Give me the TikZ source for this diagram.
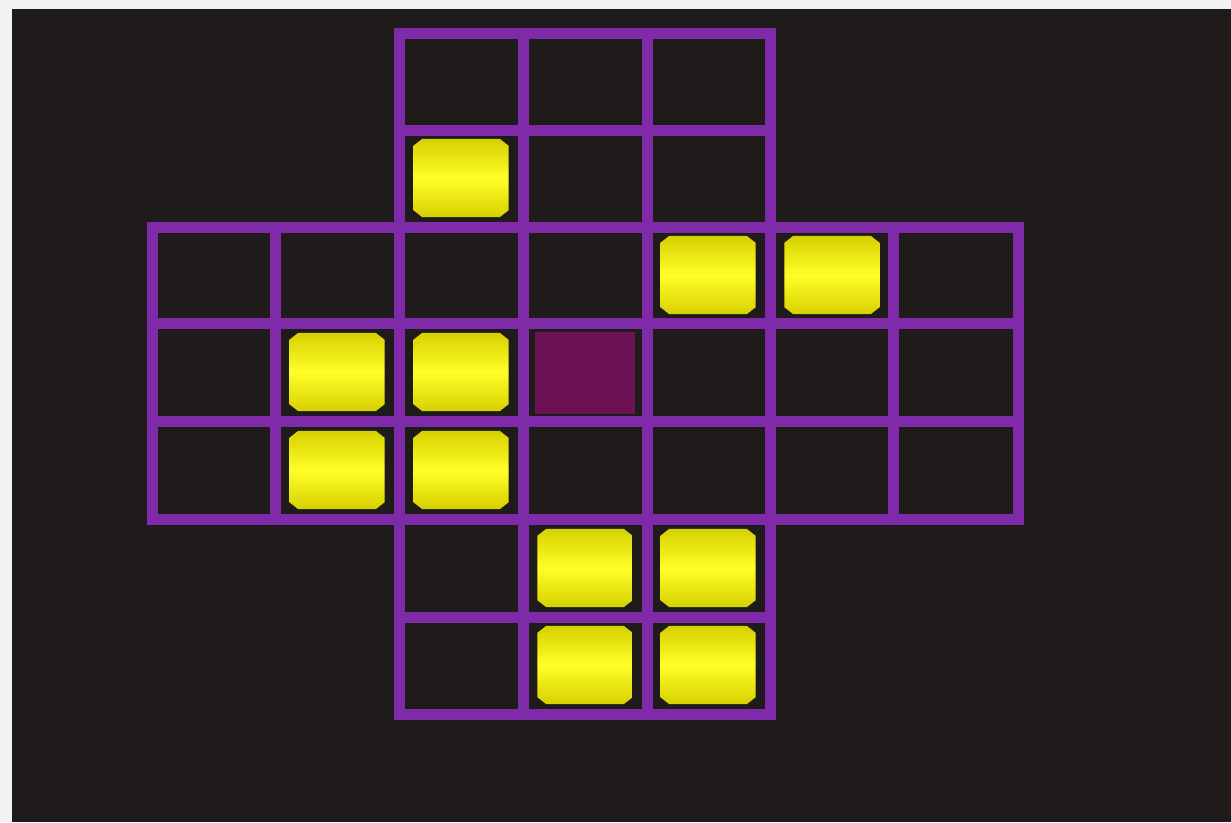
\documentclass[tikz,border=0pt]{standalone}
\usetikzlibrary{calc}
\definecolor{bgwhite}{HTML}{F2F2F2}
\definecolor{bgdark}{HTML}{1F1B1B}
\definecolor{gridpurple}{HTML}{7F2AA8}
\definecolor{holepurple}{HTML}{6C1254}
\definecolor{pegedge}{HTML}{D6D000}
\definecolor{pegmid}{HTML}{FFFF28}
\tikzset{
  gridline/.style={draw=gridpurple, line width=11pt, line cap=rect},
  pegbox/.style={rectangle, minimum width=95pt, minimum height=78pt, inner sep=0pt},
  pegshade/.style={top color=pegedge, bottom color=pegedge, middle color=pegmid},
  hole/.style={rectangle, minimum width=100pt, minimum height=82pt, inner sep=0pt, fill=holepurple}
}
\begin{document}
\begin{tikzpicture}[x=1pt,y=-1pt]
\useasboundingbox (0,0) rectangle (1231,822);
\fill[bgwhite] (0,0) rectangle (1231,822);
\fill[bgdark] (12,9) rectangle (1231,822);
% top arm
\foreach \x in {399,523,647,770} \draw[gridline] (\x,33) -- (\x,227);
\foreach \y in {33,130} \draw[gridline] (399,\y) -- (770,\y);
% middle band
\foreach \y in {227,323,421,519} \draw[gridline] (152,\y) -- (1018,\y);
\foreach \x in {152,275,399,523,647,770,893,1018} \draw[gridline] (\x,227) -- (\x,519);
% bottom arm
\foreach \x in {399,523,647,770} \draw[gridline] (\x,519) -- (\x,714);
\foreach \y in {617,714} \draw[gridline] (399,\y) -- (770,\y);
% pegs
\node[pegbox] (p12) at (461,178) {};
\node[pegbox] (p24) at (708,275) {};
\node[pegbox] (p25) at (832,275) {};
\node[pegbox] (p31) at (337,372) {};
\node[pegbox] (p32) at (461,372) {};
\node[hole] (h33) at (585,373) {};
\node[pegbox] (p41) at (337,470) {};
\node[pegbox] (p42) at (461,470) {};
\node[pegbox] (p53) at (585,568) {};
\node[pegbox] (p54) at (708,568) {};
\node[pegbox] (p63) at (585,665) {};
\node[pegbox] (p64) at (708,665) {};
\foreach \p in {p12,p24,p25,p31,p32,p41,p42,p53,p54,p63,p64}
  \shade[pegshade] ($(\p.north west)+(9,0)$) -- ($(\p.north east)+(-9,0)$)
    -- ($(\p.north east)+(0,7)$) -- ($(\p.south east)+(0,-7)$)
    -- ($(\p.south east)+(-9,0)$) -- ($(\p.south west)+(9,0)$)
    -- ($(\p.south west)+(0,-7)$) -- ($(\p.north west)+(0,7)$) -- cycle;
\end{tikzpicture}
\end{document}
